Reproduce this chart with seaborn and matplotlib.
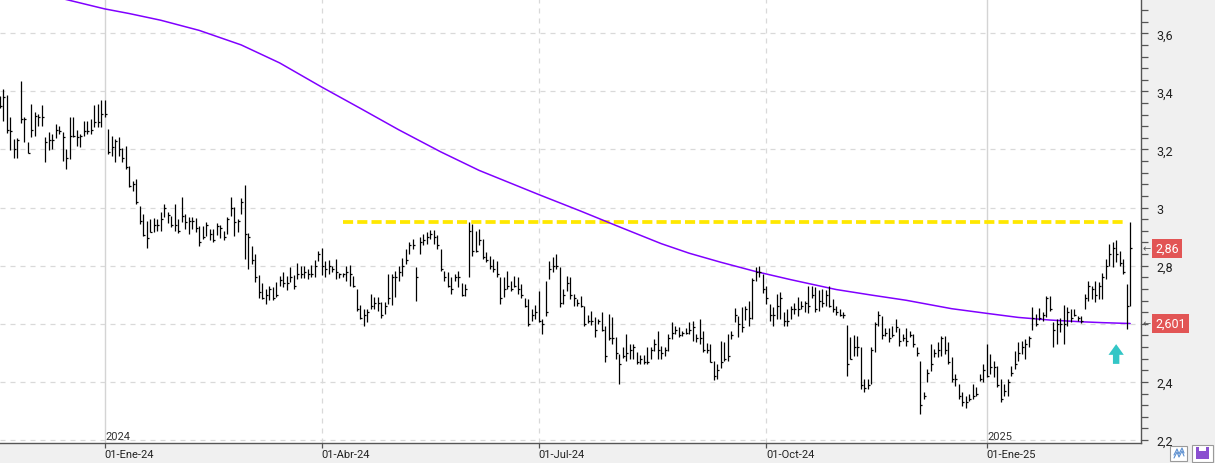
import numpy as np
import matplotlib
matplotlib.use("Agg")
import matplotlib.pyplot as plt
import matplotlib.transforms as mtransforms
from matplotlib.ticker import FixedLocator, MultipleLocator, FuncFormatter
from matplotlib.patches import Rectangle
from matplotlib.lines import Line2D
import seaborn as sns

# ---------------- data (daily bars, Nov-2023 .. Feb-2025) ----------------
high = [
    3.383, 3.408, 3.388, 3.311, 3.236, 3.240, 3.436, 3.311, 3.225, 3.357,
    3.328, 3.322, 3.353, 3.242, 3.259, 3.253, 3.288, 3.280, 3.259, 3.202,
    3.311, 3.311, 3.268, 3.253, 3.299, 3.299, 3.305, 3.354, 3.357, 3.372,
    3.372, 3.270,
    3.248, 3.236, 3.242, 3.204, 3.213, 3.144, 3.093, 3.098, 3.004, 2.978,
    2.955, 2.961, 2.963, 2.961, 2.984, 3.012, 2.984, 2.972, 3.012, 2.961,
    3.035, 2.978, 2.966, 2.966, 2.963, 2.938, 2.936, 2.949, 2.926, 2.926,
    2.947, 2.940, 2.921, 2.966,
    3.035, 3.001, 2.961, 3.032, 3.078, 2.913, 2.867, 2.841, 2.768, 2.739,
    2.720, 2.731, 2.726, 2.743, 2.763, 2.780, 2.766, 2.794, 2.768, 2.809,
    2.800, 2.800, 2.789, 2.803, 2.821, 2.852,
    2.860, 2.817, 2.821, 2.800, 2.823, 2.775, 2.775,
    2.800, 2.802, 2.766, 2.720, 2.663, 2.651, 2.651, 2.703, 2.691, 2.691,
    2.674, 2.674, 2.772, 2.772, 2.783, 2.800, 2.825, 2.858, 2.883, 2.892,
    2.794, 2.898, 2.909, 2.915, 2.924, 2.924, 2.904, 2.858, 2.783, 2.777,
    2.760, 2.772, 2.783, 2.741,
    2.737, 2.949, 2.944, 2.921, 2.926, 2.892, 2.848, 2.835, 2.823, 2.817,
    2.760, 2.760, 2.783, 2.749, 2.766, 2.760, 2.737, 2.688, 2.685, 2.651, 2.663,
    2.714, 2.617, 2.749, 2.817, 2.829, 2.840, 2.794, 2.720, 2.766, 2.760,
    2.703, 2.685, 2.694, 2.662, 2.630, 2.645, 2.622, 2.617, 2.640, 2.591,
    2.634, 2.622, 2.553, 2.496, 2.519, 2.565, 2.530, 2.530, 2.502, 2.493,
    2.493, 2.519, 2.519, 2.548, 2.576, 2.525, 2.519, 2.565, 2.605, 2.591,
    2.588, 2.576, 2.584,
    2.605, 2.611, 2.565, 2.617, 2.574, 2.533, 2.530, 2.473, 2.462, 2.540,
    2.536, 2.565, 2.576, 2.654, 2.628, 2.657, 2.662, 2.680, 2.758, 2.794,
    2.800, 2.771,
    2.731, 2.668, 2.657, 2.703, 2.708, 2.640, 2.651, 2.662, 2.670, 2.691, 2.677,
    2.680, 2.731, 2.729, 2.726, 2.718, 2.720, 2.718, 2.729, 2.685, 2.660,
    2.651, 2.642, 2.596, 2.553, 2.561, 2.559, 2.519, 2.410, 2.410, 2.519,
    2.605, 2.645, 2.628, 2.584, 2.584, 2.594, 2.616, 2.584, 2.565, 2.584,
    2.576, 2.565, 2.519,
    2.473, 2.364, 2.444, 2.530, 2.513, 2.536, 2.559, 2.559, 2.536, 2.485,
    2.427, 2.393, 2.364, 2.353, 2.358, 2.393, 2.381, 2.427, 2.462,
    2.530, 2.496, 2.473, 2.456, 2.410, 2.393, 2.410, 2.456, 2.507, 2.536,
    2.542, 2.548, 2.559,
    2.657, 2.634, 2.653, 2.639, 2.695, 2.695, 2.605, 2.617, 2.619, 2.663,
    2.657, 2.651, 2.651, 2.626, 2.628, 2.703, 2.749, 2.731, 2.749, 2.745,
    2.775, 2.823, 2.875, 2.883, 2.890, 2.852, 2.823, 2.737, 2.951,
]

low = [
    3.342, 3.297, 3.257, 3.198, 3.170, 3.170, 3.291, 3.225, 3.188, 3.242,
    3.248, 3.282, 3.280, 3.156, 3.199, 3.202, 3.238, 3.253, 3.162, 3.133,
    3.167, 3.242, 3.213, 3.207, 3.248, 3.253, 3.253, 3.276, 3.276, 3.276,
    3.311, 3.185,
    3.179, 3.158, 3.177, 3.156, 3.133, 3.070, 3.058, 3.012, 2.944, 2.901,
    2.860, 2.915, 2.917, 2.921, 2.921, 2.966, 2.947, 2.932, 2.921, 2.913,
    2.949, 2.926, 2.909, 2.926, 2.915, 2.867, 2.892, 2.903, 2.890, 2.883,
    2.906, 2.894, 2.890, 2.909,
    2.970, 2.903, 2.915, 2.978, 2.823, 2.789, 2.806, 2.743, 2.688, 2.685,
    2.668, 2.683, 2.683, 2.691, 2.731, 2.726, 2.718, 2.745, 2.720, 2.754,
    2.757, 2.757, 2.754, 2.760, 2.760, 2.817,
    2.768, 2.760, 2.771, 2.780, 2.754, 2.757, 2.760,
    2.749, 2.729, 2.726, 2.645, 2.617, 2.591, 2.607, 2.651, 2.651, 2.645,
    2.619, 2.634, 2.668, 2.663, 2.691, 2.749, 2.766, 2.806, 2.840, 2.858,
    2.680, 2.840, 2.871, 2.875, 2.892, 2.875, 2.858, 2.783, 2.749, 2.726,
    2.703, 2.749, 2.726, 2.695,
    2.695, 2.760, 2.835, 2.846, 2.871, 2.823, 2.812, 2.789, 2.777, 2.760,
    2.668, 2.691, 2.720, 2.714, 2.726, 2.703, 2.688, 2.657, 2.594, 2.611, 2.617,
    2.605, 2.565, 2.628, 2.754, 2.777, 2.789, 2.657, 2.668, 2.714, 2.685,
    2.662, 2.662, 2.657, 2.591, 2.603, 2.596, 2.553, 2.599, 2.576, 2.470,
    2.545, 2.530, 2.479, 2.393, 2.481, 2.473, 2.479, 2.479, 2.462, 2.462,
    2.462, 2.462, 2.479, 2.507, 2.479, 2.479, 2.490, 2.507, 2.548, 2.565,
    2.553, 2.557, 2.565,
    2.565, 2.540, 2.536, 2.530, 2.502, 2.498, 2.467, 2.406, 2.410, 2.448,
    2.471, 2.473, 2.548, 2.605, 2.553, 2.571, 2.613, 2.594, 2.617, 2.749,
    2.760, 2.705,
    2.668, 2.611, 2.594, 2.617, 2.617, 2.594, 2.594, 2.617, 2.634, 2.628, 2.651,
    2.639, 2.637, 2.688, 2.639, 2.645, 2.657, 2.662, 2.657, 2.639, 2.630,
    2.626, 2.619, 2.419, 2.479, 2.490, 2.490, 2.376, 2.364, 2.376, 2.393,
    2.502, 2.594, 2.548, 2.559, 2.536, 2.553, 2.571, 2.525, 2.542, 2.525,
    2.553, 2.519, 2.490,
    2.290, 2.341, 2.399, 2.439, 2.485, 2.485, 2.490, 2.496, 2.462, 2.399,
    2.387, 2.341, 2.318, 2.309, 2.335, 2.341, 2.353, 2.404, 2.399,
    2.416, 2.427, 2.416, 2.381, 2.330, 2.353, 2.353, 2.422, 2.444, 2.473,
    2.496, 2.479, 2.519,
    2.580, 2.594, 2.614, 2.611, 2.622, 2.645, 2.520, 2.530, 2.571, 2.530,
    2.594, 2.605, 2.628, 2.611, 2.603, 2.651, 2.680, 2.685, 2.674, 2.685,
    2.685, 2.754, 2.800, 2.794, 2.812, 2.800, 2.771, 2.582, 2.662,
]

close = [
    3.349, 3.380, 3.268, 3.265, 3.202, 3.233, 3.305, 3.305, 3.188, 3.267,
    3.316, 3.311, 3.311, 3.225, 3.234, 3.233, 3.268, 3.265, 3.242, 3.170,
    3.245, 3.245, 3.242, 3.248, 3.265, 3.265, 3.268, 3.296, 3.296, 3.322,
    3.322, 3.190,
    3.210, 3.230, 3.200, 3.170, 3.140, 3.075, 3.080, 3.020, 2.955, 2.905,
    2.895, 2.915, 2.940, 2.940, 2.960, 3.000, 2.975, 2.940, 2.940, 2.920,
    2.970, 2.950, 2.955, 2.955, 2.930, 2.880, 2.900, 2.940, 2.910, 2.890,
    2.935, 2.930, 2.900, 2.960,
    2.998, 2.950, 2.955, 3.020, 2.910, 2.900, 2.820, 2.760, 2.710, 2.690,
    2.700, 2.720, 2.690, 2.700, 2.750, 2.740, 2.740, 2.760, 2.730, 2.770,
    2.770, 2.780, 2.770, 2.770, 2.800, 2.840,
    2.800, 2.790, 2.800, 2.790, 2.780, 2.770, 2.770,
    2.780, 2.770, 2.730, 2.650, 2.620, 2.630, 2.640, 2.660, 2.670, 2.670,
    2.630, 2.660, 2.690, 2.760, 2.760, 2.780, 2.800, 2.820, 2.870, 2.870,
    2.760, 2.880, 2.890, 2.900, 2.910, 2.900, 2.870, 2.790, 2.760, 2.730,
    2.720, 2.760, 2.760, 2.700,
    2.720, 2.920, 2.850, 2.850, 2.890, 2.830, 2.820, 2.800, 2.790, 2.770,
    2.690, 2.720, 2.730, 2.720, 2.730, 2.720, 2.700, 2.660, 2.600, 2.630, 2.640,
    2.610, 2.600, 2.640, 2.790, 2.800, 2.800, 2.670, 2.700, 2.740, 2.700,
    2.690, 2.670, 2.660, 2.600, 2.610, 2.610, 2.580, 2.610, 2.580, 2.490,
    2.550, 2.550, 2.500, 2.460, 2.490, 2.500, 2.510, 2.520, 2.470, 2.480,
    2.470, 2.470, 2.510, 2.530, 2.510, 2.500, 2.510, 2.550, 2.570, 2.580,
    2.560, 2.570, 2.570,
    2.580, 2.590, 2.550, 2.550, 2.510, 2.510, 2.470, 2.420, 2.440, 2.470,
    2.480, 2.490, 2.560, 2.630, 2.600, 2.590, 2.650, 2.620, 2.750, 2.780,
    2.780, 2.720,
    2.690, 2.630, 2.630, 2.660, 2.690, 2.610, 2.610, 2.650, 2.650, 2.650, 2.660,
    2.670, 2.660, 2.700, 2.650, 2.680, 2.670, 2.700, 2.660, 2.650, 2.640,
    2.630, 2.630, 2.460, 2.480, 2.520, 2.520, 2.390, 2.380, 2.390, 2.510,
    2.600, 2.630, 2.560, 2.570, 2.550, 2.560, 2.590, 2.540, 2.550, 2.540,
    2.560, 2.530, 2.500,
    2.320, 2.350, 2.430, 2.460, 2.500, 2.510, 2.550, 2.510, 2.470, 2.410,
    2.410, 2.350, 2.330, 2.330, 2.340, 2.350, 2.360, 2.410, 2.440,
    2.420, 2.450, 2.450, 2.390, 2.340, 2.370, 2.400, 2.430, 2.460, 2.500,
    2.520, 2.530, 2.550,
    2.620, 2.600, 2.620, 2.630, 2.690, 2.650, 2.580, 2.600, 2.600, 2.600,
    2.640, 2.620, 2.630, 2.620, 2.610, 2.690, 2.730, 2.720, 2.700, 2.730,
    2.760, 2.800, 2.840, 2.860, 2.840, 2.810, 2.780, 2.660, 2.860,
]

# 200-session moving average (read at a set of bar positions)
ma_idx = [16, 30, 37, 46, 57, 69, 80, 92, 103, 114, 126, 137, 154, 166, 177,
          189, 197, 206, 216, 226, 239, 249, 259, 272, 282, 291, 300, 309,
          315, 323]
ma_val = [3.725, 3.684, 3.668, 3.645, 3.610, 3.560, 3.498, 3.415, 3.342, 3.268,
          3.192, 3.128, 3.045, 2.988, 2.934, 2.876, 2.843, 2.812, 2.780, 2.752,
          2.718, 2.699, 2.681, 2.652, 2.636, 2.622, 2.613, 2.607, 2.604, 2.601]

quarter_idx = [30, 92, 154, 219, 282]
quarter_labels = ["01-Ene-24", "01-Abr-24", "01-Jul-24", "01-Oct-24", "01-Ene-25"]
year_idx = [30, 282]
year_labels = ["2024", "2025"]

resist_level = 2.949
resist_from, resist_to = 98, 321
signal_idx = 319
signal_low, signal_high = 2.462, 2.530
last_close_text = "2,86"
ma_last_text = "2,601"

assert len(high) == len(low) == len(close)

# ---------------- figure ----------------
sns.set_theme(style="white")
plt.rcParams["font.family"] = ["Roboto", "DejaVu Sans"]

W, H = 1215, 464
fig = plt.figure(figsize=(W / 100, H / 100), dpi=100, facecolor="#f0f0f0")
ax = fig.add_axes([0, 1 - 444 / H, 1141 / W, 444 / H])
ax.set_facecolor("white")

n = len(high)
x = np.arange(n)
ax.set_xlim(0.1, 0.1 + 1141 / 3.5)
ax.set_ylim(2.1897, 3.718)

# grid
for v in np.arange(2.2, 3.61, 0.2):
    ax.axhline(v, color="#d9d9d9", lw=0.9, ls=(0, (4, 4)), zorder=0)
for q in quarter_idx:
    if q in year_idx:
        ax.axvline(q, color="#d4d4d4", lw=1.0, zorder=0)
    else:
        ax.axvline(q, color="#d9d9d9", lw=0.9, ls=(0, (4, 4)), zorder=0)

# resistance line
ax.hlines(resist_level, resist_from, resist_to, color="#ffe800", lw=2.7,
          linestyles=[(0, (2.7, 1.1))], zorder=2)

# MA line
sns.lineplot(x=ma_idx, y=ma_val, ax=ax, color="#8000ff", lw=1.1, zorder=3)

# HLC bars
ax.vlines(x, low, high, color="black", lw=0.9, zorder=4)
ax.hlines(close, x, x + 0.55, color="black", lw=0.9, zorder=4)

# signal arrow
ax.annotate("", xy=(signal_idx, signal_high), xytext=(signal_idx, signal_low),
            arrowprops=dict(arrowstyle="simple,head_length=0.7,head_width=1.0,tail_width=0.42",
                            color="#33c6c6", lw=0, shrinkA=0, shrinkB=0, mutation_scale=11),
            zorder=5)

# year labels inside plot
for q, t in zip(year_idx, year_labels):
    ax.text(q + 0.3, 2.197, t, fontsize=8, color="#333333", ha="left", va="bottom")

# spines
for s in ["left", "top"]:
    ax.spines[s].set_visible(False)
for s in ["right", "bottom"]:
    ax.spines[s].set_color("#555555")
    ax.spines[s].set_linewidth(1.0)

# y axis on the right (the 2,6 label is hidden behind the MA value box)
def yfmt(v, p):
    if abs(v - 2.6) < 1e-6:
        return ""
    return f"{v:g}".replace(".", ",")

ax.yaxis.tick_right()
ax.yaxis.set_major_locator(FixedLocator(np.round(np.arange(2.2, 3.61, 0.2), 2)))
ax.yaxis.set_minor_locator(MultipleLocator(0.04))
ax.yaxis.set_major_formatter(FuncFormatter(yfmt))
ax.tick_params(axis="y", which="both", direction="out", length=5, width=0.9,
               color="#555555", left=False, right=True)
ax.tick_params(axis="y", which="major", labelsize=9, pad=6, labelcolor="#222222")

# x axis
ax.set_xticks(quarter_idx)
ax.set_xticklabels(quarter_labels)
ax.tick_params(axis="x", direction="out", length=3.5, width=0.9, color="#555555",
               labelsize=8, pad=0.5, labelcolor="#222222", bottom=True)
for lbl in ax.get_xticklabels():
    lbl.set_ha("left")

# value labels on the right axis
tr = mtransforms.blended_transform_factory(ax.transAxes, ax.transData)
for val, txt in [(close[-1], last_close_text), (ma_val[-1], ma_last_text)]:
    ax.text(1.0125, val, txt, transform=tr, fontsize=9, color="white",
            ha="left", va="center", clip_on=False, zorder=10,
            bbox=dict(boxstyle="square,pad=0.25", fc="#e25555", ec="none"))
    ax.text(1.0015, val, "←", transform=tr, fontsize=7, color="#555555",
            ha="left", va="center", clip_on=False, zorder=10,
            family=["DejaVu Sans"])

# small toolbar icons (bottom right)
def px(xp, yp):
    return xp / W, 1 - yp / H

x0, y0 = px(1170, 462)
fig.patches.append(Rectangle((x0, y0), 17 / W, 15 / H, transform=fig.transFigure,
                             fc="white", ec="#9a9a9a", lw=0.8))
zx = [1174, 1177, 1179, 1182, 1184]
zy = [456, 450, 455, 449, 454]
fig.add_artist(Line2D([a / W for a in zx], [1 - b / H for b in zy], color="#5b8fd0", lw=0.8))
fig.add_artist(Line2D([a / W for a in zx], [1 - (b + 3) / H for b in zy], color="#5b8fd0", lw=0.8))
x1, y1 = px(1192, 463)
fig.patches.append(Rectangle((x1, y1), 21 / W, 17 / H, transform=fig.transFigure,
                             fc="white", ec="#9a9a9a", lw=0.8))
x2, y2 = px(1196, 460)
fig.patches.append(Rectangle((x2, y2), 13 / W, 12 / H, transform=fig.transFigure,
                             fc="#8a4fd0", ec="none"))
x3, y3 = px(1199, 452)
fig.patches.append(Rectangle((x3, y3), 7 / W, 4 / H, transform=fig.transFigure,
                             fc="white", ec="none"))

fig.savefig("out.png", dpi=100, facecolor=fig.get_facecolor())
